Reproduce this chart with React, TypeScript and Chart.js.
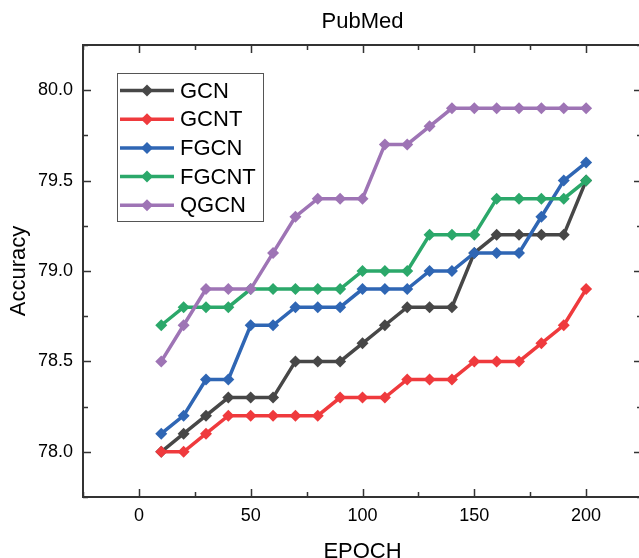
import React, { useEffect, useRef } from "react";
import { Chart, registerables } from "chart.js";

Chart.register(...registerables);

const epochs = [10, 20, 30, 40, 50, 60, 70, 80, 90, 100, 110, 120, 130, 140, 150, 160, 170, 180, 190, 200];
const gcn = [78.0, 78.1, 78.2, 78.3, 78.3, 78.3, 78.5, 78.5, 78.5, 78.6, 78.7, 78.8, 78.8, 78.8, 79.1, 79.2, 79.2, 79.2, 79.2, 79.5];
const gcnt = [78.0, 78.0, 78.1, 78.2, 78.2, 78.2, 78.2, 78.2, 78.3, 78.3, 78.3, 78.4, 78.4, 78.4, 78.5, 78.5, 78.5, 78.6, 78.7, 78.9];
const fgcn = [78.1, 78.2, 78.4, 78.4, 78.7, 78.7, 78.8, 78.8, 78.8, 78.9, 78.9, 78.9, 79.0, 79.0, 79.1, 79.1, 79.1, 79.3, 79.5, 79.6];
const fgcnt = [78.7, 78.8, 78.8, 78.8, 78.9, 78.9, 78.9, 78.9, 78.9, 79.0, 79.0, 79.0, 79.2, 79.2, 79.2, 79.4, 79.4, 79.4, 79.4, 79.5];
const qgcn = [78.5, 78.7, 78.9, 78.9, 78.9, 79.1, 79.3, 79.4, 79.4, 79.4, 79.7, 79.7, 79.8, 79.9, 79.9, 79.9, 79.9, 79.9, 79.9, 79.9];

const seriesNames = ["GCN", "GCNT", "FGCN", "FGCNT", "QGCN"];
const seriesValues = [gcn, gcnt, fgcn, fgcnt, qgcn];
const seriesColors = ["#474747", "#ef3a3d", "#2f66b4", "#2ba86a", "#9e74b5"];

const titleText = "PubMed";
const xTitle = "EPOCH";
const yTitle = "Accuracy";
const xMin = -25, xMax = 225, xMajor = 50, xMinor = 25;
const yMin = 77.75, yMax = 80.25, yMajor = 0.5, yMinor = 0.25;

const FONT = "Arial, 'Liberation Sans', sans-serif";

function drawDiamond(ctx: CanvasRenderingContext2D, x: number, y: number, r: number, color: string) {
  ctx.beginPath();
  ctx.moveTo(x, y - r);
  ctx.lineTo(x + r, y);
  ctx.lineTo(x, y + r);
  ctx.lineTo(x - r, y);
  ctx.closePath();
  ctx.fillStyle = color;
  ctx.fill();
}

const framePlugin = {
  id: "frameTicks",
  afterDatasetsDraw(chart: any) {
    const { ctx, chartArea } = chart;
    const { left, right, top, bottom } = chartArea;
    const xs = chart.scales.x;
    const ys = chart.scales.y;
    ctx.save();
    ctx.strokeStyle = "#333333";
    ctx.lineWidth = 2;
    ctx.strokeRect(left, top, right - left, bottom - top);
    ctx.lineWidth = 1.5;
    ctx.beginPath();
    for (let v = Math.ceil(xMin / xMinor) * xMinor; v <= xMax + 1e-9; v += xMinor) {
      const px = Math.round(xs.getPixelForValue(v)) + 0.5;
      const major = Math.abs(v / xMajor - Math.round(v / xMajor)) < 1e-6;
      const len = major ? 8 : 5;
      ctx.moveTo(px, bottom);
      ctx.lineTo(px, bottom - len);
      ctx.moveTo(px, top);
      ctx.lineTo(px, top + len);
    }
    for (let v = Math.ceil(yMin / yMinor - 1e-9) * yMinor; v <= yMax + 1e-9; v += yMinor) {
      const py = Math.round(ys.getPixelForValue(v)) + 0.5;
      const major = Math.abs(v / yMajor - Math.round(v / yMajor)) < 1e-6;
      const len = major ? 8 : 5;
      ctx.moveTo(left, py);
      ctx.lineTo(left + len, py);
      ctx.moveTo(right, py);
      ctx.lineTo(right - len, py);
    }
    ctx.stroke();

    // title
    ctx.fillStyle = "#000";
    ctx.font = `22px ${FONT}`;
    ctx.textAlign = "center";
    ctx.textBaseline = "middle";
    ctx.fillText(titleText, (left + right) / 2, top - 23);

    // legend
    const bx = left + 34, by = top + 28, bw = 146, bh = 148;
    ctx.fillStyle = "#fff";
    ctx.fillRect(bx, by, bw, bh);
    ctx.strokeStyle = "#555";
    ctx.lineWidth = 1;
    ctx.strokeRect(bx + 0.5, by + 0.5, bw, bh);
    seriesNames.forEach((name, i) => {
      const cy = by + 17.5 + i * 28.7;
      ctx.strokeStyle = seriesColors[i];
      ctx.lineWidth = 3.5;
      ctx.beginPath();
      ctx.moveTo(bx + 3, cy);
      ctx.lineTo(bx + 57, cy);
      ctx.stroke();
      drawDiamond(ctx, bx + 30, cy, 6, seriesColors[i]);
      ctx.fillStyle = "#000";
      ctx.font = `22px ${FONT}`;
      ctx.textAlign = "left";
      ctx.textBaseline = "middle";
      ctx.fillText(name, bx + 63, cy + 1);
    });
    ctx.restore();
  },
};

export default function App() {
  const ref = useRef<HTMLCanvasElement | null>(null);
  useEffect(() => {
    if (!ref.current) return;
    const chart = new Chart(ref.current, {
      type: "line",
      data: {
        datasets: seriesNames.map((name, i) => ({
          label: name,
          data: epochs.map((e, j) => ({ x: e, y: seriesValues[i][j] })),
          borderColor: seriesColors[i],
          backgroundColor: seriesColors[i],
          borderWidth: 3.5,
          pointStyle: "rectRot",
          pointRadius: 6,
          pointBorderWidth: 0,
          pointBackgroundColor: seriesColors[i],
          tension: 0,
          order: seriesNames.length - 1 - i,
        })),
      },
      options: {
        animation: false,
        responsive: false,
        devicePixelRatio: 1,
        layout: { padding: { top: 45, right: 2, left: 0, bottom: 0 } },
        plugins: { legend: { display: false }, tooltip: { enabled: false }, title: { display: false } },
        scales: {
          x: {
            type: "linear",
            min: xMin,
            max: xMax,
            afterFit: (s: any) => { s.height = 61; s.paddingLeft = 0; s.paddingRight = 0; },
            afterBuildTicks: (s: any) => {
              const t = [];
              for (let v = 0; v <= 200; v += xMajor) t.push({ value: v });
              s.ticks = t;
            },
            grid: { display: false, drawTicks: false },
            border: { display: false },
            ticks: { padding: 8, color: "#000", font: { size: 18, family: FONT } },
            title: { display: true, text: xTitle, color: "#000", font: { size: 22, family: FONT, lineHeight: 1 }, padding: { top: 0, bottom: -5 } },
          },
          y: {
            type: "linear",
            min: yMin,
            max: yMax,
            afterFit: (s: any) => { s.width = 83; s.paddingTop = 0; s.paddingBottom = 0; },
            afterBuildTicks: (s: any) => {
              const t = [];
              for (let v = 78; v <= 80.0001; v += yMajor) t.push({ value: v });
              s.ticks = t;
            },
            grid: { display: false, drawTicks: false },
            border: { display: false },
            ticks: { padding: 10, color: "#000", font: { size: 18, family: FONT }, callback: (v: any) => Number(v).toFixed(1) },
            title: { display: true, text: yTitle, color: "#000", font: { size: 22, family: FONT, lineHeight: 1 }, padding: { top: 8, bottom: 0 } },
          },
        },
      },
      plugins: [framePlugin],
    } as any);
    return () => chart.destroy();
  }, []);
  return (
    <div style={{ position: "absolute", left: 0, top: 0, width: 639, height: 558, overflow: "hidden", background: "#fff" }}>
      <div style={{ width: 648, height: 558 }}>
        <canvas ref={ref} width={648} height={558} style={{ display: "block", width: 648, height: 558 }} />
      </div>
    </div>
  );
}
